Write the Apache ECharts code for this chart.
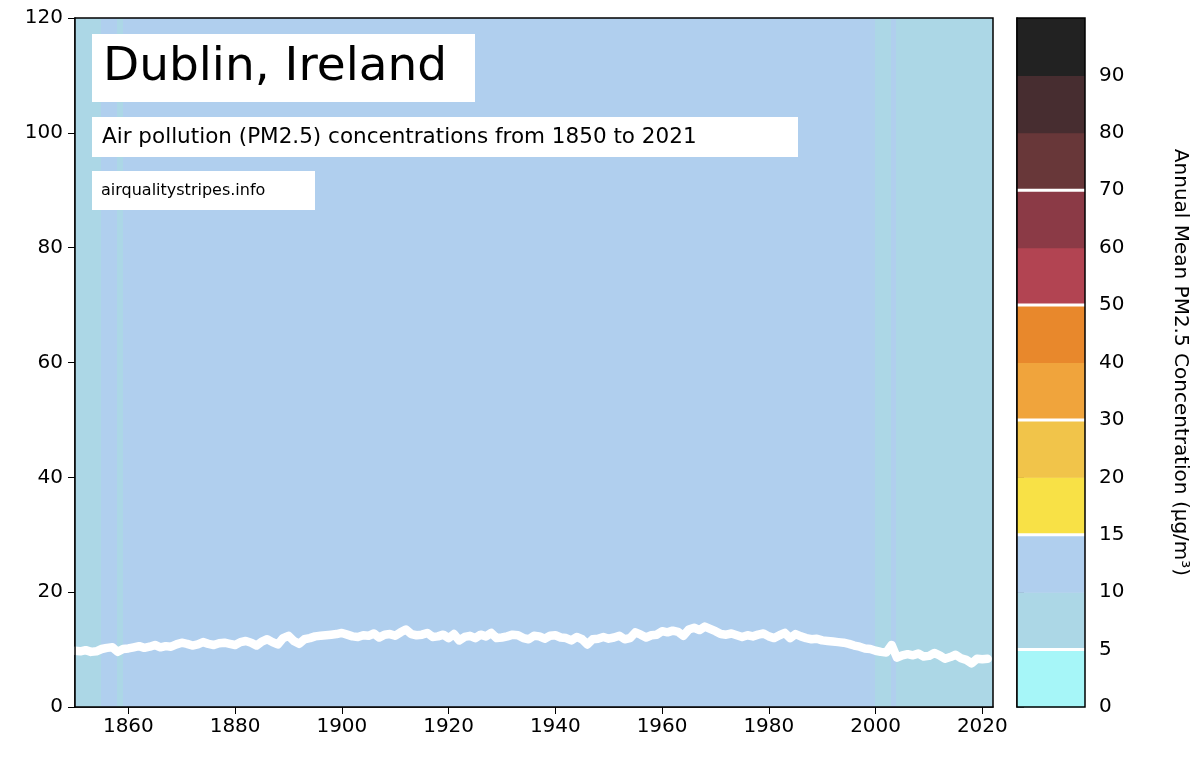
<!DOCTYPE html>
<html>
<head>
<meta charset="utf-8">
<script src="https://cdn.jsdelivr.net/npm/echarts@6/dist/echarts.min.js"></script>
<style>html,body{margin:0;padding:0;background:#fff}#chart{width:1200px;height:757px}</style>
</head>
<body>
<div id="chart"></div>
<script>
// annual mean PM2.5, 1850 - 2021
var startYear = 1850;
var pm25 = [
    9.8, 9.7, 9.9, 9.6, 9.7, 10.1, 10.3, 10.4, 9.6, 10.1,
    10.2, 10.4, 10.6, 10.3, 10.5, 10.8, 10.4, 10.6, 10.5, 10.9,
    11.2, 11.0, 10.7, 10.9, 11.3, 11.0, 10.8, 11.1, 11.2, 11.0,
    10.8, 11.3, 11.5, 11.2, 10.7, 11.4, 11.8, 11.3, 10.9, 12.0,
    12.4, 11.5, 11.0, 11.8, 12.0, 12.3, 12.4, 12.5, 12.6, 12.7,
    12.9, 12.6, 12.3, 12.2, 12.5, 12.4, 12.8, 12.1, 12.6, 12.7,
    12.4, 13.0, 13.5, 12.7, 12.5, 12.6, 12.9, 12.2, 12.3, 12.6,
    12.0, 12.7, 11.6, 12.2, 12.4, 12.0, 12.6, 12.3, 12.9, 12.0,
    12.1, 12.3, 12.6, 12.5, 12.0, 11.8, 12.4, 12.3, 11.9, 12.4,
    12.5, 12.1, 12.0, 11.6, 12.2, 11.8, 10.9, 11.8, 11.9, 12.2,
    11.9, 12.1, 12.4, 11.8, 12.0, 13.0, 12.6, 12.1, 12.5, 12.6,
    13.2, 13.0, 13.3, 13.1, 12.4, 13.5, 13.8, 13.4, 14.0, 13.6,
    13.2, 12.7, 12.6, 12.8, 12.5, 12.2, 12.5, 12.3, 12.6, 12.8,
    12.3, 12.0, 12.5, 12.9, 12.0, 12.7, 12.3, 12.0, 11.8, 11.9,
    11.6, 11.5, 11.4, 11.3, 11.2, 11.0, 10.7, 10.5, 10.2, 10.1,
    9.8, 9.6, 9.5, 10.8, 8.6, 9.0, 9.2, 9.0, 9.3, 8.8,
    8.9, 9.4, 9.0, 8.4, 8.7, 9.1, 8.5, 8.2, 7.6, 8.4,
    8.3, 8.4
];

// colour scale bands
var bandEdges = [0, 5, 10, 15, 20, 30, 40, 50, 60, 70, 80, 90, 100];
var bandColors = ['#a6f6f8', '#acd7e6', '#b0cfee', '#f8e146', '#f1c44a', '#f0a43c',
    '#e8882c', '#b24452', '#8b3a46', '#683739', '#472d30', '#222222'];
var whiteLines = [1, 3, 5, 7, 9];
var xTicks = [1860, 1880, 1900, 1920, 1940, 1960, 1980, 2000, 2020];

function bandColor(v) {
    for (var i = 0; i < bandColors.length; i++) {
        if (v < bandEdges[i + 1]) return bandColors[i];
    }
    return bandColors[bandColors.length - 1];
}

var lineData = pm25.map(function (v, i) { return [startYear + i, v]; });

var myChart = echarts.init(document.getElementById('chart'));
var font = 'DejaVu Sans';
myChart.setOption({
    animation: false,
    textStyle: {fontFamily: font},
    grid: [
        {left: 75, right: 207, top: 18, bottom: 50, show: true, borderColor: '#000', borderWidth: 1.5, z: 10},
        {left: 1017, width: 68, top: 18, bottom: 50, show: true, borderColor: '#000', borderWidth: 1.5, z: 10}
    ],
    xAxis: [
        {
            type: 'value', min: 1850, max: 2022, gridIndex: 0,
            splitLine: {show: false},
            axisLine: {lineStyle: {color: '#000', width: 1.5}},
            axisTick: {show: true, length: 7, lineStyle: {color: '#000'}, customValues: xTicks},
            axisLabel: {color: '#000', fontSize: 20, customValues: xTicks, margin: 10,
                formatter: function (v) { return String(v); }}
        },
        {
            type: 'value', min: 0, max: 1, gridIndex: 1, show: false
        }
    ],
    yAxis: [
        {
            type: 'value', min: 0, max: 120, interval: 20, gridIndex: 0,
            splitLine: {show: false},
            axisLine: {show: true, lineStyle: {color: '#000', width: 1.5}},
            axisTick: {show: true, length: 7, lineStyle: {color: '#000'}},
            axisLabel: {color: '#000', fontSize: 20, margin: 12}
        },
        {
            type: 'value', min: 0, max: 12, interval: 1, gridIndex: 1, position: 'right',
            splitLine: {show: false},
            axisLine: {show: true, lineStyle: {color: '#000', width: 1.5}},
            axisTick: {show: true, length: 7, lineStyle: {color: '#000'}},
            axisLabel: {
                color: '#000', fontSize: 20, margin: 14,
                formatter: function (v) { return v < 12 ? String(bandEdges[v]) : ''; }
            },
            name: 'Annual Mean PM2.5 Concentration (μg/m³)',
            nameLocation: 'middle', nameRotate: -90, nameGap: 85,
            nameTextStyle: {color: '#000', fontSize: 20}
        }
    ],
    graphic: [
        {type: 'rect', shape: {x: 92, y: 34, width: 383, height: 68}, style: {fill: '#fff'}, z: 100},
        {type: 'text', x: 103, y: 68, style: {text: 'Dublin, Ireland', font: '47px DejaVu Sans', fill: '#000', verticalAlign: 'middle'}, z: 101},
        {type: 'rect', shape: {x: 92, y: 117, width: 706, height: 40}, style: {fill: '#fff'}, z: 100},
        {type: 'text', x: 102, y: 137, style: {text: 'Air pollution (PM2.5) concentrations from 1850 to 2021', font: '21.5px DejaVu Sans', fill: '#000', verticalAlign: 'middle'}, z: 101},
        {type: 'rect', shape: {x: 92, y: 171, width: 223, height: 39}, style: {fill: '#fff'}, z: 100},
        {type: 'text', x: 101, y: 191, style: {text: 'airqualitystripes.info', font: '16px DejaVu Sans', fill: '#000', verticalAlign: 'middle'}, z: 101}
    ],
    series: [
        {
            type: 'custom', xAxisIndex: 0, yAxisIndex: 0,
            data: lineData,
            renderItem: function (params, api) {
                var p0 = api.coord([api.value(0), 120]);
                var p1 = api.coord([api.value(0) + 1, 0]);
                return {
                    type: 'rect',
                    shape: {x: Math.floor(p0[0]), y: p0[1], width: Math.ceil(p1[0] - p0[0]) + 1, height: p1[1] - p0[1]},
                    style: {fill: bandColor(api.value(1))}
                };
            },
            clip: true, z: 1
        },
        {
            type: 'line', xAxisIndex: 0, yAxisIndex: 0,
            data: lineData, showSymbol: false,
            lineStyle: {color: '#fff', width: 8.5, join: 'round', cap: 'round'},
            clip: true, z: 5
        },
        {
            type: 'custom', xAxisIndex: 1, yAxisIndex: 1,
            data: bandColors.map(function (c, i) { return [i, c]; }),
            renderItem: function (params, api) {
                var i = api.value(0);
                var p0 = api.coord([0, i + 1]);
                var p1 = api.coord([1, i]);
                var shapes = [{
                    type: 'rect',
                    shape: {x: p0[0], y: p0[1], width: p1[0] - p0[0], height: p1[1] - p0[1] + 0.5},
                    style: {fill: bandColors[i]}
                }];
                if (whiteLines.indexOf(i + 1) >= 0) {
                    shapes.push({
                        type: 'line',
                        shape: {x1: p0[0], y1: p0[1], x2: p1[0], y2: p0[1]},
                        style: {stroke: '#fff', lineWidth: 3}, z2: 10
                    });
                }
                return {type: 'group', children: shapes};
            }
        }
    ]
});
</script>
</body>
</html>
